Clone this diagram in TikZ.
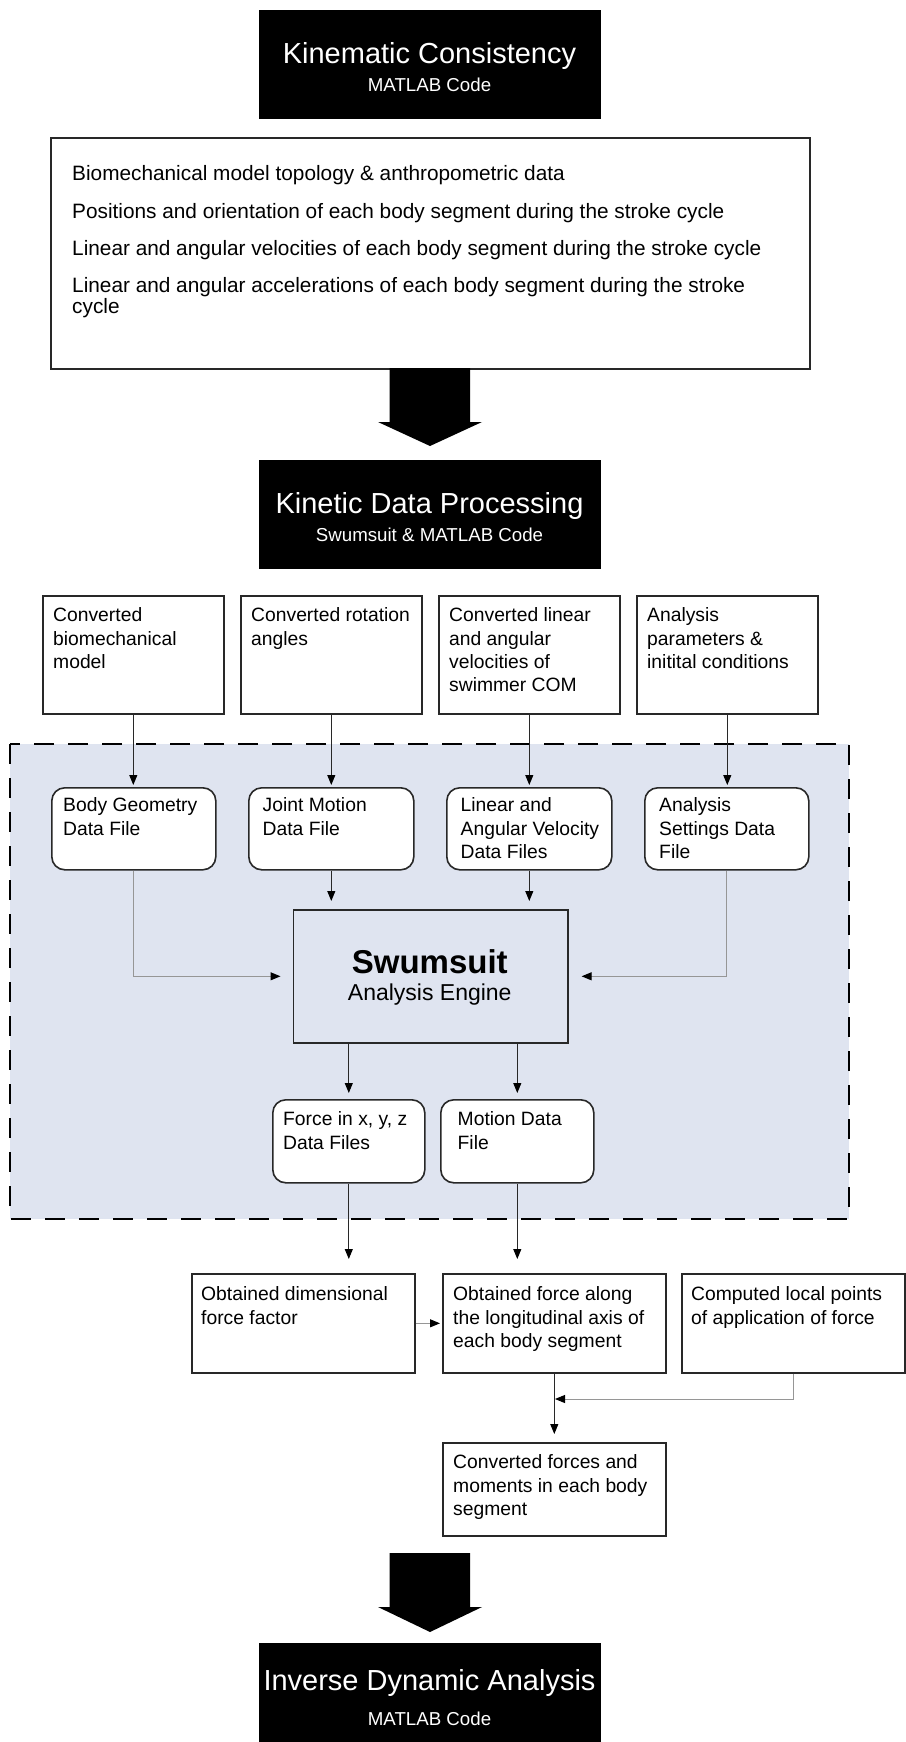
\documentclass[tikz,border=0pt]{standalone}
\usepackage{fontspec}
\setmainfont{Liberation Sans}
\usetikzlibrary{arrows.meta}
\definecolor{regionfill}{RGB}{223,228,240}
\definecolor{linedark}{RGB}{40,40,40}
\definecolor{linegrey}{RGB}{150,150,150}
\tikzset{
 titlebox/.style={fill=black, draw=black, inner sep=0pt, anchor=north west, minimum width=341pt},
 titletxt/.style={anchor=base, inner sep=0pt, text=white, font=\fontsize{29}{34}\selectfont},
 subtxt/.style={anchor=base, inner sep=0pt, text=white, font=\fontsize{18.7}{22}\selectfont},
 sqbox/.style={draw=linedark, line width=1.6pt, fill=white, inner sep=0pt, anchor=north west},
 rbox/.style={sqbox, rounded corners=13pt},
 txt/.style={anchor=north west, yshift=16.31pt, inner sep=0pt, align=left, font=\fontsize{19.3}{23.3}\selectfont, execute at begin node=\strut},
 bigtxt/.style={anchor=north west, yshift=15.05pt, inner sep=0pt, align=left, font=\fontsize{20.8}{21.5}\selectfont, execute at begin node=\strut},
 conn/.style={draw=linedark, line width=1pt, -{Triangle[length=10pt,width=8pt,color=black]}},
 gconn/.style={conn, draw=linegrey},
 region/.style={fill=regionfill, draw=black, line width=1.8pt, dash pattern=on 20pt off 14pt},
 bigarrow/.style={fill=black},
}
\begin{document}
\begin{tikzpicture}[x=1pt, y=-1pt]
\useasboundingbox (0,0) rectangle (905,1742);
\fill[white] (0,0) rectangle (905,1742);

% ---- Kinematic Consistency
\node[titlebox, minimum height=108pt] (kc) at (259,10) {};
\node[titletxt] (kct) at (429.5,63.5) {Kinematic Consistency};
\node[subtxt] (kcs) at (429.5,92) {MATLAB Code};

\node[sqbox, minimum width=759pt, minimum height=231pt] (mb) at (50,137) {};
\node[bigtxt] (m1) at (72,180) {Biomechanical model topology \& anthropometric data};
\node[bigtxt] (m2) at (72,218) {Positions and orientation of each body segment during the stroke cycle};
\node[bigtxt] (m3) at (72,255) {Linear and angular velocities of each body segment during the stroke cycle};
\node[bigtxt] (m4) at (72,292) {Linear and angular accelerations of each body segment during the stroke\\cycle};

\fill[bigarrow] (389.5,368) -- (470,368) -- (470,422) -- (482,422) -- (430,446) -- (378,422) -- (389.5,422) -- cycle;

% ---- Kinetic Data Processing
\node[titlebox, minimum height=108pt] (kd) at (259,460) {};
\node[titletxt] (kdt) at (429.5,513.5) {Kinetic Data Processing};
\node[subtxt] (kds) at (429.5,541) {Swumsuit \& MATLAB Code};

\node[sqbox, minimum width=181pt, minimum height=118pt] (in1) at (42,595) {};
\node[sqbox, minimum width=181pt, minimum height=118pt] (in2) at (240,595) {};
\node[sqbox, minimum width=181pt, minimum height=118pt] (in3) at (438,595) {};
\node[sqbox, minimum width=181pt, minimum height=118pt] (in4) at (636,595) {};
\node[txt] (ti1) at (53,624) {Converted\\biomechanical\\model};
\node[txt] (ti2) at (251,624) {Converted rotation\\angles};
\node[txt] (ti3) at (449,624) {Converted linear\\and angular\\velocities of\\swimmer COM};
\node[txt] (ti4) at (647,624) {Analysis\\parameters \&\\initital conditions};

% ---- Swumsuit region
\draw[region] (10,744) rectangle (849,1219);

\node[rbox, minimum width=164pt, minimum height=82pt] (rb1) at (51,787) {};
\node[rbox, minimum width=165pt, minimum height=82pt] (rb2) at (248,787) {};
\node[rbox, minimum width=165pt, minimum height=82pt] (rb3) at (446,787) {};
\node[rbox, minimum width=164pt, minimum height=82pt] (rb4) at (644,787) {};
\node[txt] (tr1) at (63,814) {Body Geometry\\Data File};
\node[txt] (tr2) at (262.5,814) {Joint Motion\\Data File};
\node[txt] (tr3) at (460.5,814) {Linear and\\Angular Velocity\\Data Files};
\node[txt] (tr4) at (659,814) {Analysis\\Settings Data\\File};

\node[sqbox, fill=regionfill, minimum width=274.5pt, minimum height=133pt] (sw) at (292.5,909) {};
\node[anchor=base, inner sep=0pt, font=\bfseries\fontsize{33}{38}\selectfont] (swt) at (429.75,973) {Swumsuit};
\node[anchor=base, inner sep=0pt, font=\fontsize{23}{27}\selectfont] (sws) at (429.75,1000.5) {Analysis Engine};

\node[rbox, minimum width=152pt, minimum height=83pt] (out1) at (272,1099) {};
\node[rbox, minimum width=153pt, minimum height=83pt] (out2) at (440,1099) {};
\node[txt] (to1) at (283,1128) {Force in x, y, z\\Data Files};
\node[txt] (to2) at (457.5,1128) {Motion Data\\File};

% ---- Lower boxes
\node[sqbox, minimum width=223pt, minimum height=99pt] (ob1) at (191,1273) {};
\node[sqbox, minimum width=223pt, minimum height=99pt] (ob2) at (442,1273) {};
\node[sqbox, minimum width=223pt, minimum height=99pt] (ob3) at (681,1273) {};
\node[txt] (tb1) at (201,1303) {Obtained dimensional\\force factor};
\node[txt] (tb2) at (453,1303) {Obtained force along\\the longitudinal axis of\\each body segment};
\node[txt] (tb3) at (691,1303) {Computed local points\\of application of force};

\node[sqbox, minimum width=223pt, minimum height=93pt] (cv) at (442,1442) {};
\node[txt] (tc) at (453,1471) {Converted forces and\\moments in each body\\segment};

\fill[bigarrow] (389.5,1553) -- (470,1553) -- (470,1607) -- (482,1607) -- (430,1632) -- (378,1607) -- (389.5,1607) -- cycle;

% ---- Inverse Dynamic Analysis
\node[titlebox, minimum height=110pt] (ida) at (259,1643) {};
\node[titletxt] (idat) at (429.5,1690.5) {Inverse Dynamic Analysis};
\node[subtxt] (idas) at (429.5,1725) {MATLAB Code};

% ---- Connectors
\draw[conn, shorten >=2pt] (in1.south) -- (in1.south |- rb1.north);
\draw[conn, shorten >=2pt] (in2.south) -- (in2.south |- rb2.north);
\draw[conn, shorten >=2pt] (in3.south) -- (in3.south |- rb3.north);
\draw[conn, shorten >=2pt] (in4.south) -- (in4.south |- rb4.north);

\draw[conn, shorten >=8pt] (rb2.south) -- (rb2.south |- sw.north);
\draw[conn, shorten >=8pt] (rb3.south) -- (rb3.south |- sw.north);
\draw[gconn, shorten >=12pt] (rb1.south) |- (sw.west);
\draw[gconn, shorten >=13pt] (rb4.south) |- (sw.east);

\draw[conn, shorten >=6pt] (out1.north |- sw.south) -- (out1.north);
\draw[conn, shorten >=6pt] (out2.north |- sw.south) -- (out2.north);

\draw[conn, shorten >=14pt] (out1.south) -- (out1.south |- ob1.north);
\draw[conn, shorten >=14pt] (out2.south) -- (out2.south |- ob2.north);

\draw[gconn, shorten >=2pt] (ob1.east) -- (ob2.west);
\coordinate (mg) at (554.5,1399);
\draw[conn, shorten >=8pt] (ob2.south) -- (cv.north);
\draw[gconn, shorten >=0.5pt] (ob3.south) |- (mg);
\end{tikzpicture}
\end{document}
